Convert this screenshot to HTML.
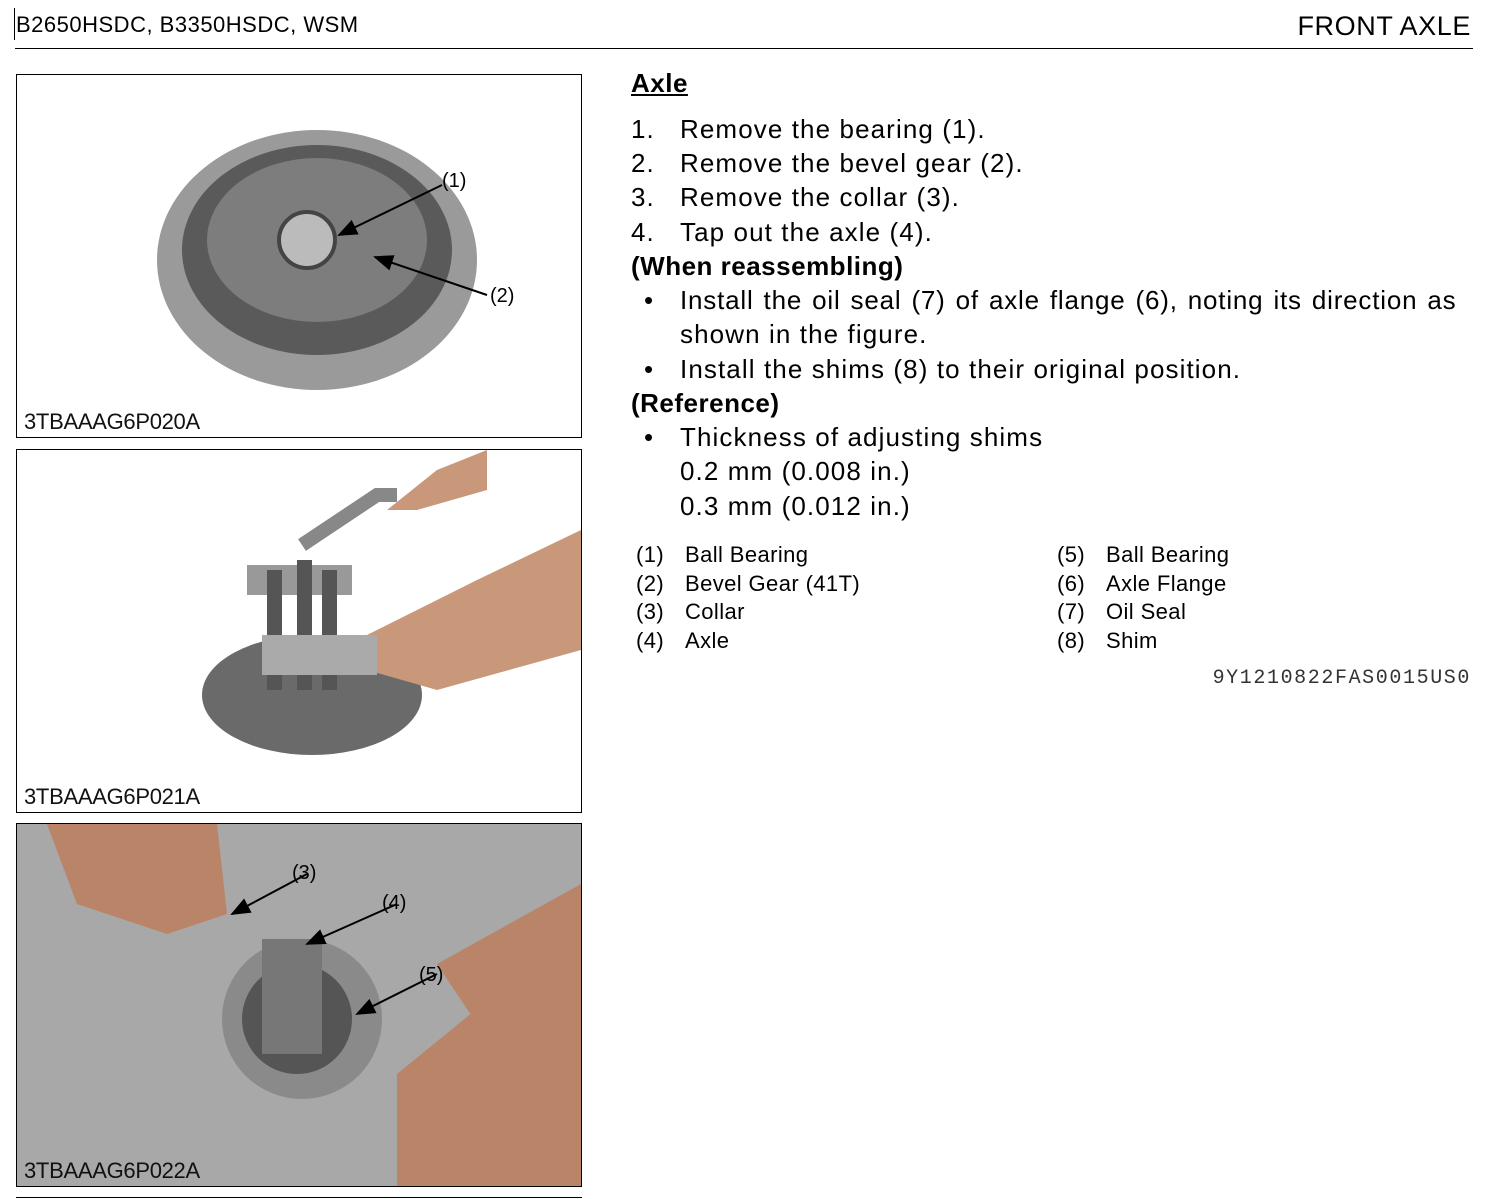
<!DOCTYPE html>
<html><head><meta charset="utf-8"><style>
body{margin:0;width:1490px;height:1199px;background:#fff;position:relative;overflow:hidden;font-family:"Liberation Sans",sans-serif;color:#000}
.a{position:absolute;white-space:nowrap}
.box{position:absolute;left:16px;width:564px;height:362px;border:1px solid #000;overflow:hidden;background:#fff}
.cap{position:absolute;left:7px;bottom:2px;font-size:22px;color:#111;letter-spacing:-0.3px}
.t{font-size:26px;letter-spacing:1.1px}
.p{font-size:22px;letter-spacing:0.4px}
</style></head><body>
<div class="a" style="left:14px;top:8px;width:1px;height:32px;background:#000"></div>
<div class="a" style="left:16px;top:12px;font-size:22px;letter-spacing:0.5px">B2650HSDC, B3350HSDC, WSM</div>
<div class="a" style="right:19px;top:11px;font-size:27px;letter-spacing:0.6px">FRONT AXLE</div>
<div class="a" style="left:15px;top:48px;width:1458px;height:1px;background:#000"></div>

<svg width="0" height="0" style="position:absolute"><defs><marker id="ar" markerWidth="10" markerHeight="8" refX="9" refY="4" orient="auto"><path d="M0 0 L10 4 L0 8Z" fill="#000"/></marker></defs></svg>

<div class="box" style="top:74px">
<svg width="564" height="362">
<ellipse cx="300" cy="185" rx="160" ry="130" fill="#9a9a9a"/>
<ellipse cx="300" cy="175" rx="135" ry="105" fill="#5a5a5a"/>
<ellipse cx="300" cy="165" rx="110" ry="82" fill="#7d7d7d"/>
<circle cx="290" cy="165" r="28" fill="#bbb" stroke="#444" stroke-width="4"/>
<line x1="425" y1="110" x2="322" y2="160" stroke="#000" stroke-width="2" marker-end="url(#ar)"/>
<line x1="470" y1="220" x2="358" y2="182" stroke="#000" stroke-width="2" marker-end="url(#ar)"/>
<text x="425" y="112" font-size="20" font-family="Liberation Sans">(1)</text>
<text x="473" y="227" font-size="20" font-family="Liberation Sans">(2)</text>
</svg><div class="cap">3TBAAAG6P020A</div></div>

<div class="box" style="top:449px">
<svg width="564" height="362">
<ellipse cx="295" cy="245" rx="110" ry="60" fill="#6a6a6a"/>
<rect x="230" y="115" width="105" height="30" fill="#999"/>
<rect x="250" y="120" width="15" height="120" fill="#555"/>
<rect x="280" y="110" width="15" height="130" fill="#555"/>
<rect x="305" y="120" width="15" height="120" fill="#555"/>
<path d="M285 95 L360 45 L380 45" stroke="#888" stroke-width="14" fill="none"/>
<path d="M370 60 L420 20 L470 0 L470 40 L400 60Z" fill="#c9987a"/>
<path d="M340 190 L460 130 L564 80 L564 200 L420 240 L350 220Z" fill="#c9987a"/>
<rect x="245" y="185" width="115" height="40" fill="#aaa"/>
</svg><div class="cap">3TBAAAG6P021A</div></div>

<div class="box" style="top:823px">
<svg width="564" height="362">
<rect width="564" height="362" fill="#a8a8a8"/>
<circle cx="285" cy="195" r="80" fill="#8a8a8a"/>
<circle cx="280" cy="195" r="55" fill="#555"/>
<rect x="245" y="115" width="60" height="115" fill="#777"/>
<path d="M30 0 L200 0 L210 90 L150 110 L60 80Z" fill="#b98468"/>
<path d="M380 250 L564 100 L564 362 L380 362Z" fill="#b98468"/>
<path d="M420 140 L564 60 L564 140 L460 200Z" fill="#b98468"/>
<line x1="290" y1="50" x2="215" y2="90" stroke="#000" stroke-width="2" marker-end="url(#ar)"/>
<line x1="380" y1="80" x2="290" y2="120" stroke="#000" stroke-width="2" marker-end="url(#ar)"/>
<line x1="420" y1="150" x2="340" y2="190" stroke="#000" stroke-width="2" marker-end="url(#ar)"/>
<text x="275" y="55" font-size="20" font-family="Liberation Sans">(3)</text>
<text x="365" y="85" font-size="20" font-family="Liberation Sans">(4)</text>
<text x="402" y="157" font-size="20" font-family="Liberation Sans">(5)</text>
</svg><div class="cap">3TBAAAG6P022A</div></div>
<div class="a" style="left:16px;top:1197px;width:566px;height:1px;background:#000"></div>

<div class="a" style="left:631px;top:68px;font-size:26px;font-weight:bold;text-decoration:underline;letter-spacing:0.5px">Axle</div>
<div class="a t" style="left:631px;top:114px">1.</div><div class="a t" style="left:680px;top:114px">Remove the bearing (1).</div>
<div class="a t" style="left:631px;top:148px">2.</div><div class="a t" style="left:680px;top:148px">Remove the bevel gear (2).</div>
<div class="a t" style="left:631px;top:182px">3.</div><div class="a t" style="left:680px;top:182px">Remove the collar (3).</div>
<div class="a t" style="left:631px;top:217px">4.</div><div class="a t" style="left:680px;top:217px">Tap out the axle (4).</div>
<div class="a t" style="left:631px;top:251px;font-weight:bold;letter-spacing:0.5px">(When reassembling)</div>
<div class="a t" style="left:644px;top:285px">•</div><div class="a t" style="left:680px;top:285px;letter-spacing:0.8px;word-spacing:2px">Install the oil seal (7) of axle flange (6), noting its direction as</div>
<div class="a t" style="left:680px;top:319px">shown in the figure.</div>
<div class="a t" style="left:644px;top:354px">•</div><div class="a t" style="left:680px;top:354px">Install the shims (8) to their original position.</div>
<div class="a t" style="left:631px;top:388px;font-weight:bold;letter-spacing:0.5px">(Reference)</div>
<div class="a t" style="left:644px;top:422px">•</div><div class="a t" style="left:680px;top:422px">Thickness of adjusting shims</div>
<div class="a t" style="left:680px;top:456px">0.2 mm (0.008 in.)</div>
<div class="a t" style="left:680px;top:491px">0.3 mm (0.012 in.)</div>

<div class="a p" style="left:636px;top:542px">(1)</div><div class="a p" style="left:685px;top:542px">Ball Bearing</div>
<div class="a p" style="left:636px;top:571px">(2)</div><div class="a p" style="left:685px;top:571px">Bevel Gear (41T)</div>
<div class="a p" style="left:636px;top:599px">(3)</div><div class="a p" style="left:685px;top:599px">Collar</div>
<div class="a p" style="left:636px;top:628px">(4)</div><div class="a p" style="left:685px;top:628px">Axle</div>
<div class="a p" style="left:1057px;top:542px">(5)</div><div class="a p" style="left:1106px;top:542px">Ball Bearing</div>
<div class="a p" style="left:1057px;top:571px">(6)</div><div class="a p" style="left:1106px;top:571px">Axle Flange</div>
<div class="a p" style="left:1057px;top:599px">(7)</div><div class="a p" style="left:1106px;top:599px">Oil Seal</div>
<div class="a p" style="left:1057px;top:628px">(8)</div><div class="a p" style="left:1106px;top:628px">Shim</div>
<div class="a" style="right:19px;top:667px;font-family:'Liberation Mono',monospace;font-size:20px;letter-spacing:1.6px;color:#333">9Y1210822FAS0015US0</div>
</body></html>
